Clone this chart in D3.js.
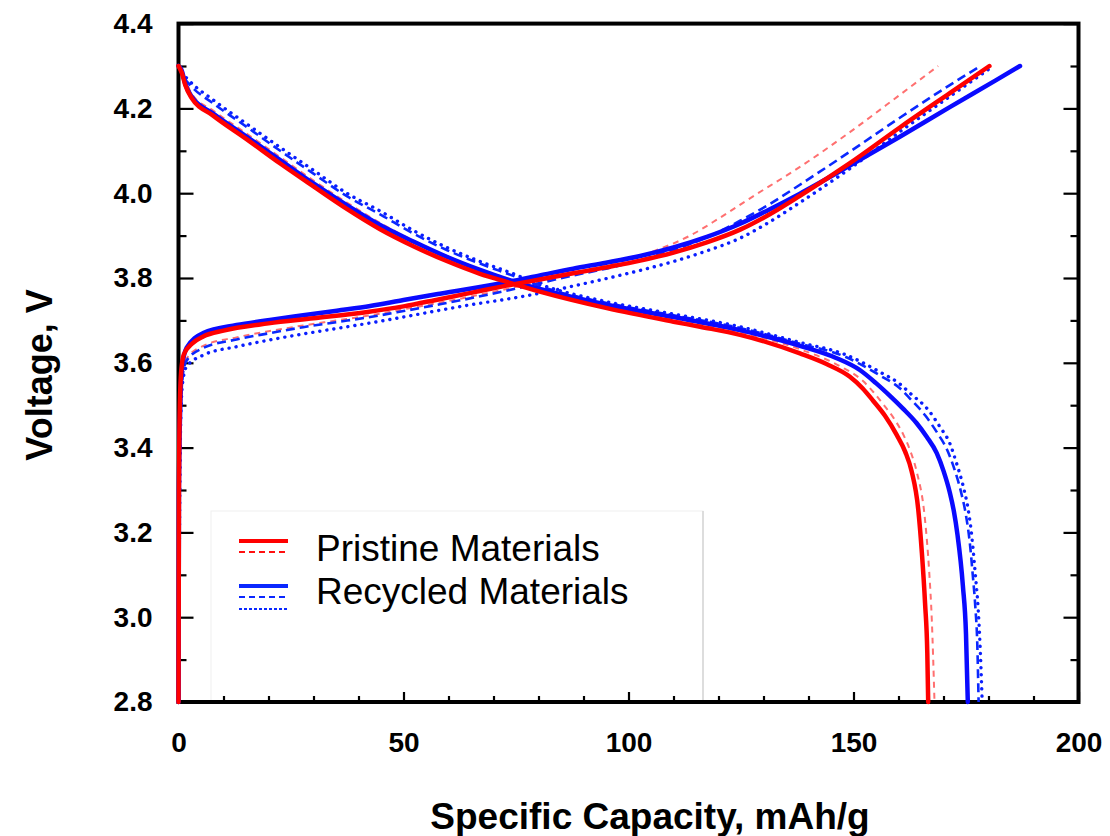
<!DOCTYPE html>
<html><head><meta charset="utf-8">
<script src="https://cdn.jsdelivr.net/npm/d3@7"></script>
<style>
body{margin:0;background:#fff;}
text{font-family:"Liberation Sans",Arial,sans-serif;}
</style></head>
<body><svg id="c" width="1110" height="836"></svg>
<script>
// ---- data: [capacity mAh/g, voltage V] ----
const pristineSolidCharge=[[0,2.8],[0.1,3.3],[0.3,3.5],[0.6,3.58],[1.2,3.62],[3,3.645],[5.5,3.662],[10,3.676],[20,3.693],[30,3.705],[42,3.72],[50,3.733],[58,3.75],[65,3.765],[72.9,3.782],[80,3.796],[87.7,3.811],[95,3.825],[102.6,3.841],[110,3.86],[117.4,3.884],[124.8,3.914],[131,3.948],[138.1,3.994],[149.2,4.071],[160.3,4.155],[171.4,4.236],[180.2,4.3]];
const pristineDashCharge=[[0,2.8],[0.2,3.3],[0.5,3.5],[1,3.58],[1.8,3.61],[5.5,3.64],[12.9,3.66],[20.3,3.675],[27.7,3.688],[35.2,3.7],[42.6,3.712],[50,3.726],[58.1,3.742],[72.9,3.774],[87.7,3.812],[95,3.83],[102.6,3.852],[106.3,3.866],[113.7,3.9],[120,3.94],[127,3.988],[138.1,4.062],[149.2,4.144],[160.3,4.232],[168.8,4.3]];
const recycledSolidCharge=[[0,2.8],[0.1,3.3],[0.4,3.5],[0.8,3.59],[1.8,3.635],[5.5,3.67],[12.9,3.689],[20.3,3.701],[27.7,3.712],[35.2,3.723],[42.6,3.734],[50,3.748],[58.1,3.763],[72.9,3.79],[80.3,3.806],[87.7,3.822],[95,3.836],[102.6,3.852],[110,3.872],[117.4,3.897],[124.8,3.928],[131,3.96],[138.1,3.999],[149.2,4.065],[160.3,4.133],[171.4,4.203],[181.6,4.266],[187,4.3]];
const recycledDashCharge=[[0,2.8],[0.2,3.3],[0.5,3.5],[1,3.575],[1.8,3.605],[5.5,3.635],[12.9,3.655],[20.3,3.67],[27.7,3.684],[35.2,3.696],[42.6,3.708],[50,3.722],[58.1,3.738],[72.9,3.77],[80.3,3.788],[87.7,3.806],[95,3.822],[102.6,3.842],[110,3.866],[117.4,3.896],[124.8,3.935],[131,3.972],[138.1,4.02],[149.2,4.098],[160.3,4.178],[171.4,4.255],[178.2,4.3]];
const recycledDotCharge=[[0,2.8],[0.3,3.3],[0.6,3.5],[1,3.56],[1.8,3.591],[5.5,3.618],[12.9,3.638],[20.3,3.654],[27.7,3.668],[35.2,3.681],[42.6,3.694],[50,3.708],[58.1,3.724],[65,3.737],[72.9,3.75],[80.3,3.764],[87.7,3.781],[95.2,3.799],[102.6,3.818],[110,3.839],[117.4,3.864],[124.8,3.894],[131,3.93],[138.1,3.978],[149.2,4.058],[160.3,4.145],[171.4,4.228],[181.1,4.3]];

const pristineSolidDischarge=[[0,4.3],[0.7,4.285],[1.5,4.255],[2.9,4.225],[7.7,4.183],[15.2,4.127],[22.6,4.07],[30,4.016],[37.4,3.963],[44.8,3.915],[52.2,3.875],[59.6,3.84],[67,3.81],[72.9,3.791],[80.3,3.768],[95.2,3.729],[110,3.697],[115.9,3.685],[124.8,3.666],[138.1,3.622],[144,3.597],[149.2,3.567],[152,3.54],[154.4,3.51],[157,3.475],[159.6,3.43],[161.5,3.39],[162.9,3.345],[164.4,3.253],[165.2,3.151],[165.9,3.033],[166.4,2.915],[166.6,2.8]];
const pristineDashDischarge=[[0,4.3],[1,4.28],[2.9,4.235],[7.7,4.195],[15.2,4.14],[22.6,4.085],[30,4.03],[37.4,3.978],[44.8,3.93],[52.2,3.888],[59.6,3.852],[67,3.82],[74.4,3.795],[80.3,3.775],[95.2,3.735],[110,3.703],[124.8,3.672],[138.1,3.632],[147,3.592],[152,3.558],[154.5,3.53],[156.6,3.502],[158.9,3.47],[161.1,3.43],[162.7,3.39],[164,3.345],[165.9,3.229],[166.8,3.111],[167.4,2.994],[168,2.8]];
const recycledSolidDischarge=[[0,4.3],[0.7,4.29],[1.5,4.258],[2.9,4.228],[7.7,4.188],[15.2,4.133],[22.6,4.078],[30,4.023],[37.4,3.972],[44.8,3.925],[52.2,3.886],[59.6,3.85],[67,3.819],[74.4,3.792],[80.3,3.774],[95.2,3.737],[110,3.708],[124.8,3.677],[138.1,3.64],[146,3.612],[151.4,3.583],[155,3.552],[158.1,3.522],[161,3.492],[164,3.458],[166.3,3.425],[168.5,3.387],[170,3.345],[171.4,3.294],[172.3,3.25],[173.1,3.195],[174.3,3.075],[175,2.96],[175.4,2.8]];
const recycledDashDischarge=[[0,4.3],[0.8,4.28],[2.6,4.255],[7.7,4.212],[15.2,4.156],[22.6,4.1],[30,4.046],[37.4,3.993],[44.8,3.95],[52.2,3.905],[59.6,3.866],[67,3.834],[74.4,3.805],[80.3,3.781],[95.2,3.741],[110,3.712],[124.8,3.682],[138.1,3.645],[148,3.615],[155.9,3.57],[160.3,3.54],[162.6,3.515],[166,3.475],[168.6,3.435],[170.8,3.395],[172.4,3.35],[173.9,3.295],[175,3.24],[175.8,3.18],[176.5,3.1],[177.1,3.02],[177.5,2.94],[177.8,2.8]];
const recycledDotDischarge=[[0,4.3],[0.8,4.285],[2.6,4.263],[7.7,4.22],[15.2,4.163],[22.6,4.108],[30,4.054],[37.4,4.0],[44.8,3.958],[52.2,3.912],[59.6,3.872],[67,3.839],[74.4,3.81],[80.3,3.785],[95.2,3.744],[110,3.715],[124.8,3.685],[138.1,3.648],[148,3.62],[155.9,3.578],[160.3,3.55],[162.6,3.528],[166.6,3.489],[169.2,3.449],[171.4,3.41],[172.9,3.363],[174.4,3.308],[175.5,3.253],[176.3,3.19],[177,3.11],[177.7,3.02],[178.1,2.94],[178.6,2.8]];

const xMajorTicks=[0,50,100,150,200];
const xMinorTicks=[10,20,30,40,60,70,80,90,110,120,130,140,160,170,180,190];
const yMajorTicks=[2.8,3.0,3.2,3.4,3.6,3.8,4.0,4.2,4.4];
const yMinorTicks=[2.9,3.1,3.3,3.5,3.7,3.9,4.1,4.3];
const legendLabels=["Pristine Materials","Recycled Materials"];
const xTitle="Specific Capacity, mAh/g", yTitle="Voltage, V";

// ---- drawing ----
const svg=d3.select("#c");
const L=178.5,R=1078.5,T=23.6,B=702;
const x=d3.scaleLinear().domain([0,200]).range([L,R]);
const y=d3.scaleLinear().domain([2.8,4.4]).range([B,T]);

// legend box (behind everything)
svg.append("rect").attr("x",211).attr("y",511).attr("width",492).attr("height",191)
  .attr("fill","#fff").attr("stroke","#f0f0f0").attr("stroke-width",1);
svg.append("line").attr("x1",703).attr("x2",703).attr("y1",511).attr("y2",704)
  .attr("stroke","#d4d4d4").attr("stroke-width",1.5);

function styleAxis(g){ g.select(".domain").remove(); g.selectAll("line").attr("stroke","#000").attr("stroke-width",2.2); }

// bottom axis
svg.append("g").attr("transform",`translate(0,${B})`)
  .call(d3.axisBottom(x).tickValues(xMinorTicks).tickSize(-6).tickFormat("")).call(styleAxis);
svg.append("g").attr("transform",`translate(0,${B})`)
  .call(d3.axisBottom(x).tickValues(xMajorTicks).tickSize(-10).tickPadding(30).tickFormat(d3.format("d")))
  .call(styleAxis)
  .call(g=>g.selectAll("text").attr("font-size",28).attr("font-weight","bold").attr("fill","#000"));
// left axis
svg.append("g").attr("transform",`translate(${L},0)`)
  .call(d3.axisLeft(y).tickValues(yMinorTicks).tickSize(-8).tickFormat("")).call(styleAxis);
svg.append("g").attr("transform",`translate(${L},0)`)
  .call(d3.axisLeft(y).tickValues(yMajorTicks).tickSize(-15).tickPadding(26).tickFormat(d3.format(".1f")))
  .call(styleAxis)
  .call(g=>g.selectAll("text").attr("font-size",28).attr("font-weight","bold").attr("fill","#000"));
// right axis
svg.append("g").attr("transform",`translate(${R},0)`)
  .call(d3.axisRight(y).tickValues(yMinorTicks).tickSize(-8).tickFormat("")).call(styleAxis);
svg.append("g").attr("transform",`translate(${R},0)`)
  .call(d3.axisRight(y).tickValues(yMajorTicks).tickSize(-15).tickFormat("")).call(styleAxis);

// frame
svg.append("rect").attr("x",L).attr("y",T).attr("width",R-L).attr("height",B-T)
  .attr("fill","none").attr("stroke","#000").attr("stroke-width",4);

// curves
const line=d3.line().x(d=>x(d[0])).y(d=>y(d[1])).curve(d3.curveMonotoneX);
const series=[
  {d:pristineDashCharge,c:"#ff7070",w:2,da:"6,5",cap:"butt"},
  {d:pristineDashDischarge,c:"#ff7070",w:2,da:"6,5",cap:"butt"},
  {d:recycledDashCharge,c:"#0a28ff",w:2.6,da:"9,5",cap:"butt"},
  {d:recycledDashDischarge,c:"#0a28ff",w:2.6,da:"9,5",cap:"butt"},
  {d:recycledDotCharge,c:"#0a1eff",w:3.4,da:"0.1,7",cap:"round"},
  {d:recycledDotDischarge,c:"#0a1eff",w:3.4,da:"0.1,7",cap:"round"},
  {d:recycledSolidCharge,c:"#0a0aff",w:4.5,da:null,cap:"round"},
  {d:recycledSolidDischarge,c:"#0a0aff",w:4.5,da:null,cap:"round"},
  {d:pristineSolidCharge,c:"#ff0000",w:4.5,da:null,cap:"round"},
  {d:pristineSolidDischarge,c:"#ff0000",w:4.5,da:null,cap:"round"}
];
svg.append("g").selectAll("path").data(series).join("path")
  .attr("d",s=>line(s.d)).attr("fill","none").attr("stroke",s=>s.c)
  .attr("stroke-width",s=>s.w).attr("stroke-dasharray",s=>s.da).attr("stroke-linecap",s=>s.cap)
  .attr("stroke-linejoin","round");

// legend
const lg=svg.append("g");
const legendRows=[
  {y:541,c:"#ff0000",w:4,da:null},
  {y:552,c:"#ff1010",w:2,da:"6,4"},
  {y:586,c:"#0a28ff",w:4,da:null},
  {y:597,c:"#0a28ff",w:2,da:"6,4"},
  {y:609,c:"#0a28ff",w:2,da:"3,2"}
];
lg.selectAll("line").data(legendRows).join("line")
  .attr("x1",239).attr("x2",288).attr("y1",d=>d.y).attr("y2",d=>d.y)
  .attr("stroke",d=>d.c).attr("stroke-width",d=>d.w).attr("stroke-dasharray",d=>d.da);
lg.selectAll("text").data(legendLabels).join("text")
  .attr("x",316).attr("y",(d,i)=>[561,604][i]).attr("font-size",37).attr("fill","#000").text(d=>d);

// titles
svg.append("text").attr("x",650).attr("y",829).attr("text-anchor","middle")
  .attr("font-size",37).attr("font-weight","bold").text(xTitle);
svg.append("text").attr("transform","translate(52,375) rotate(-90)").attr("text-anchor","middle")
  .attr("font-size",36).attr("font-weight","bold").text(yTitle);
</script></body></html>
